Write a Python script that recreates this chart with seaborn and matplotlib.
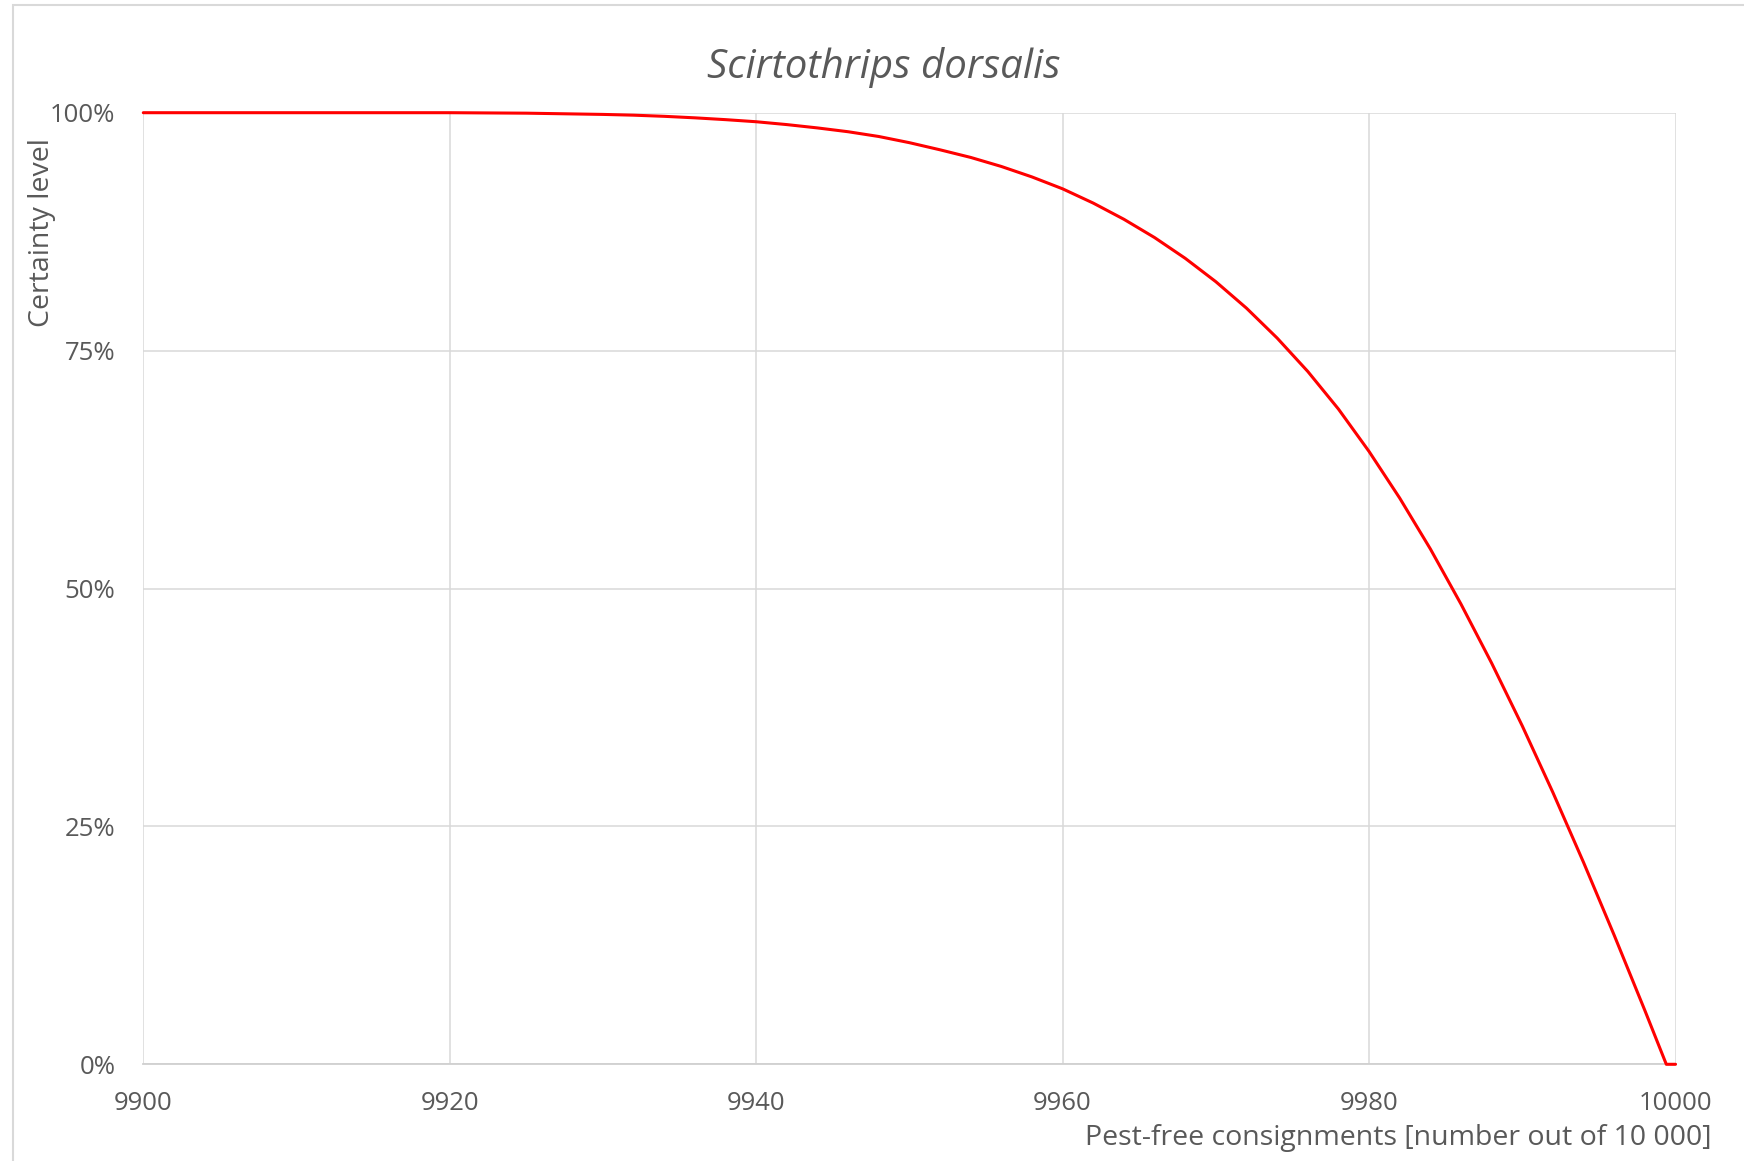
import numpy as np
import pandas as pd
import matplotlib
matplotlib.use("Agg")
import matplotlib.pyplot as plt
import seaborn as sns
from matplotlib.patches import Rectangle
from matplotlib.ticker import FuncFormatter

# valeurs
consignments = [9900, 9910, 9920, 9925, 9930, 9932, 9934, 9936, 9938,
                9940, 9942, 9944, 9946, 9948, 9950, 9952, 9954, 9956, 9958,
                9960, 9962, 9964, 9966, 9968, 9970, 9972, 9974, 9976, 9978,
                9980, 9982, 9984, 9986, 9988, 9990, 9992, 9994, 9996, 9998,
                9999.4, 10000]
certainty = [100, 100, 100, 99.95, 99.82, 99.74, 99.62, 99.46, 99.27,
             99.05, 98.75, 98.4, 98.0, 97.5, 96.85, 96.1, 95.3, 94.35, 93.25,
             92.0, 90.5, 88.8, 86.88, 84.7, 82.24, 79.46, 76.32, 72.81, 68.86,
             64.4, 59.5, 54.16, 48.36, 42.16, 35.56, 28.56, 21.21, 13.56, 5.66,
             0.0, 0.0]
x_ticks = [9900, 9920, 9940, 9960, 9980, 10000]
y_ticks = [0, 25, 50, 75, 100]

title = "Scirtothrips dorsalis"
x_label = "Pest-free consignments [number out of 10 000]"
y_label = "Certainty level"

df = pd.DataFrame({"x": consignments, "y": certainty})

sns.set_style("white")
plt.rcParams["font.family"] = ["Open Sans", "DejaVu Sans"]
text_color = "#595959"
grid_color = "#d9d9d9"

W, H = 1744, 1161
fig = plt.figure(figsize=(W / 100, H / 100), dpi=100)
ax = fig.add_axes([143.3 / W, 1 - 1064.3 / H, 1532.2 / W, 951.6 / H])

sns.lineplot(data=df, x="x", y="y", ax=ax, color="#ff0000", linewidth=2.2,
             clip_on=False, zorder=4)

ax.set_xlim(9900, 10000)
ax.set_ylim(0, 100)
ax.set_xticks(x_ticks)
ax.set_yticks(y_ticks)
ax.yaxis.set_major_formatter(FuncFormatter(lambda v, p: f"{int(v)}%"))
ax.grid(True, color=grid_color, linewidth=1.1)
ax.set_axisbelow(True)
for side in ["top", "right", "left"]:
    ax.spines[side].set_visible(False)
ax.spines["bottom"].set_color("#d0d0d0")
ax.spines["bottom"].set_linewidth(1.3)
ax.tick_params(axis="both", length=0, labelsize=18.5, labelcolor=text_color)
ax.tick_params(axis="x", pad=19.5)
ax.tick_params(axis="y", pad=20)

ax.set_xlabel(x_label, fontsize=20.5, color=text_color)
ax.xaxis.set_label_coords(1.0235, -0.0776)
ax.xaxis.label.set_horizontalalignment("right")
ax.xaxis.label.set_verticalalignment("center")
ax.set_ylabel(y_label, fontsize=20.5, color=text_color)
ax.yaxis.set_label_coords(-0.066, 0.874)
ax.yaxis.label.set_verticalalignment("center")

fig.text(884 / W, 1 - 67 / H, title, fontsize=29, style="italic",
         color=text_color, ha="center", va="center")

# cadre exterieur du graphique
fig.patches.append(Rectangle((12.5 / W, -0.05), 1.2, 1 - 5 / H + 0.05,
                             transform=fig.transFigure, fill=False,
                             edgecolor=grid_color, linewidth=1.5))

fig.savefig("out.png", dpi=100)
